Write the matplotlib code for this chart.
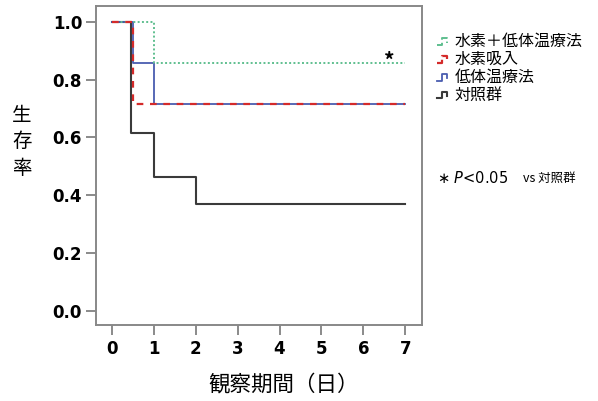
import matplotlib
matplotlib.use("Agg")
import matplotlib.pyplot as plt
from matplotlib.legend_handler import HandlerBase
from matplotlib.lines import Line2D

plt.rcParams['font.family'] = ['Noto Sans CJK JP', 'DejaVu Sans']

# --- data (days, survival rate) ---
labels = ["水素＋低体温療法", "水素吸入", "低体温療法", "対照群"]
combo_t = [0, 1, 7]
combo_s = [1.0, 0.857, 0.857]
h2_t = [0, 0.5, 7]
h2_s = [1.0, 0.714, 0.714]
hypo_t = [0, 0.5, 1, 7]
hypo_s = [1.0, 0.857, 0.714, 0.714]
ctrl_t = [0, 0.45, 1, 2, 7]
ctrl_s = [1.0, 0.615, 0.462, 0.37, 0.37]
xticks = [0, 1, 2, 3, 4, 5, 6, 7]
yticks = [0.0, 0.2, 0.4, 0.6, 0.8, 1.0]

colors = ["#5fbf8f", "#d42a2a", "#4a5db0", "#3a3a3a"]
styles = [(0, (1, 1.2)), (0, (3, 3)), "-", "-"]
widths = [1.4, 1.6, 1.3, 1.5]


class StepHandler(HandlerBase):
    """legend glyph shaped like a small step"""
    def create_artists(self, legend, orig, xd, yd, w, h, fontsize, trans):
        xs = [xd + 0.1 * w, xd + 0.45 * w, xd + 0.45 * w, xd + 0.8 * w, xd + 0.8 * w]
        ys = [yd + 0.1 * h, yd + 0.1 * h, yd + 0.7 * h, yd + 0.7 * h, yd + 0.3 * h]
        ln = Line2D(xs, ys, color=orig.get_color(), linestyle=orig.get_linestyle(),
                    linewidth=orig.get_linewidth(), transform=trans)
        return [ln]


fig = plt.figure(figsize=(5.98, 4.01), dpi=100)
ax = fig.add_axes([96 / 598, 1 - 325 / 401, (422 - 96) / 598, (325 - 6) / 401])

series = [(combo_t, combo_s), (h2_t, h2_s), (hypo_t, hypo_s), (ctrl_t, ctrl_s)]
handles = {}
# draw control first so the treated curves sit on top
for i in [3, 2, 0, 1]:
    t, s = series[i]
    ln, = ax.step(t, s, where="post", color=colors[i], linestyle=styles[i],
                  linewidth=widths[i])
    handles[i] = ln
handles = [handles[i] for i in range(4)]

ax.set_xlim(-0.38, 7.4)
ax.set_ylim(-0.05, 1.055)
ax.set_xticks(xticks)
ax.set_yticks(yticks)
ax.set_xticklabels([str(x) for x in xticks], fontweight="bold", fontsize=12,
                   family="DejaVu Sans")
ax.set_yticklabels([f"{y:.1f}" for y in yticks], fontweight="bold", fontsize=12,
                   family="DejaVu Sans")
ax.tick_params(axis="both", direction="out", length=7, width=1.2, color="#777",
               pad=3)
ax.tick_params(axis="x", pad=4)
for sp in ax.spines.values():
    sp.set_color("#888")
    sp.set_linewidth(1.4)

ax.text(6.61, 0.865, "*", fontsize=15, fontweight="bold", ha="center",
        va="center")

fig.text(22 / 598, 1 - 142 / 401, "生\n存\n率", fontsize=14, ha="center",
         va="center", linespacing=1.35)
fig.text(284 / 598, 1 - 384 / 401, "観察期間（日）", fontsize=15.5, ha="center",
         va="center")

leg = fig.legend(handles, labels, loc="upper left",
                 bbox_to_anchor=(424 / 598, 1 - 22 / 401), frameon=False,
                 fontsize=11.5, handlelength=0.9, handletextpad=0.3,
                 labelspacing=0.05, borderpad=0.2,
                 handler_map={Line2D: StepHandler()})

fig.text(437 / 598, 1 - 178 / 401, "∗ $\\it{P}$<0.05", fontsize=10.5,
         ha="left", va="center", family="DejaVu Sans")
fig.text(523 / 598, 1 - 178 / 401, "vs 対照群", fontsize=9, ha="left",
         va="center")

fig.savefig("out.png", dpi=100)
